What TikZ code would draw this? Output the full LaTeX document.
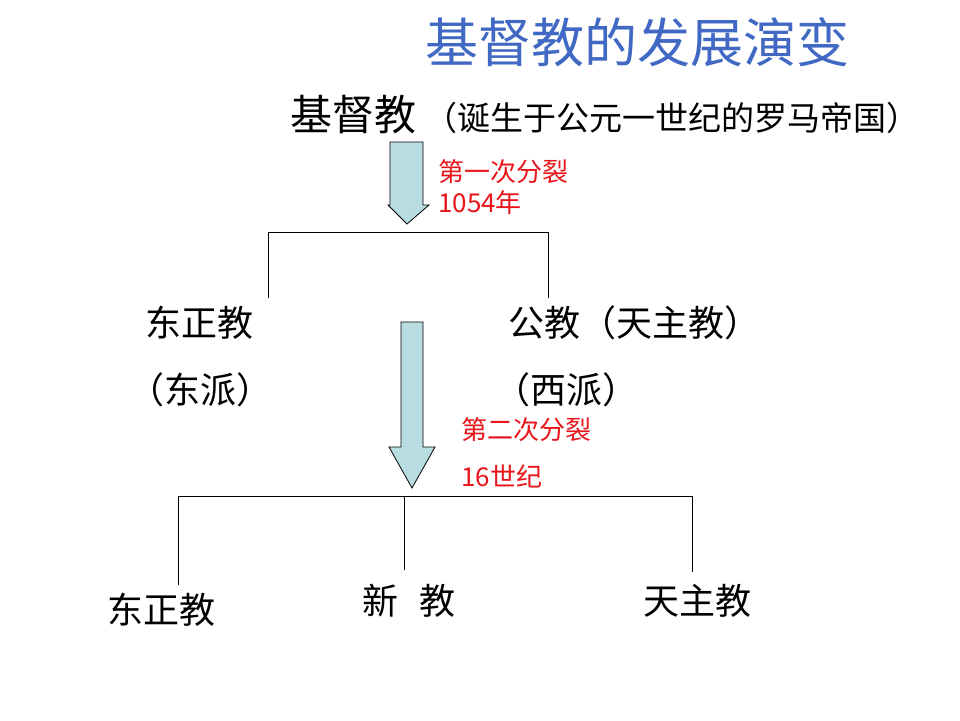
\documentclass[tikz,border=0pt]{standalone}
\usepackage{fontspec}
\setmainfont{Noto Sans CJK SC}
\newfontfamily\cjk{Noto Sans CJK SC}
\definecolor{titleblue}{HTML}{4169C4}
\definecolor{arrowfill}{HTML}{B8DDE0}
\definecolor{splitred}{HTML}{E8151B}
\begin{document}
\begin{tikzpicture}[x=1pt,y=-1pt,
  txt/.style={anchor=west,inner sep=0pt,font=\cjk\fontsize{36}{40}\selectfont},
  redtxt/.style={anchor=west,inner sep=0pt,text=splitred,font=\cjk\fontsize{26}{30}\selectfont},
  bigarrow/.style={draw=black,line width=0.8pt,fill=arrowfill,line join=miter},
  tree/.style={draw=black,line width=0.9pt}]
\useasboundingbox (0,0) rectangle (960,720);
\fill[white] (0,0) rectangle (960,720);
% title
\node[anchor=center,inner sep=0pt,text=titleblue,font=\cjk\fontsize{53}{58}\selectfont] (title) at (637,42) {基督教的发展演变};
% root
\node[txt,font=\cjk\fontsize{42}{46}\selectfont] (root) at (290,115) {基督教};
\node[anchor=west,inner sep=0pt,font=\cjk\fontsize{33}{36}\selectfont] (rootnote) at (424,118) {（诞生于公元一世纪的罗马帝国）};
% arrow 1
\draw[bigarrow] (390,142) -- (423,142) -- (423,205) -- (429,205) -- (407,224) -- (388,205) -- (390,205) -- cycle;
\node[redtxt] (s1a) at (438,172) {第一次分裂};
\node[redtxt] (s1b) at (438,203) {1054年};
% tree 1
\coordinate (t1l) at (268,232);
\coordinate (t1r) at (548,232);
\coordinate (t1lb) at (268,298);
\coordinate (t1rb) at (548,298);
\draw[tree] (t1lb) -- (t1l) -- (t1r) -- (t1rb);
% level 2
\node[txt] (east) at (145,323) {东正教};
\node[txt] (eastp) at (128,390) {（东派）};
\node[txt] (west) at (508,323) {公教（天主教）};
\node[txt] (westp) at (494,390) {（西派）};
% arrow 2
\draw[bigarrow] (401,322) -- (423,322) -- (423,447) -- (435,447) -- (412,488) -- (389,447) -- (401,447) -- cycle;
\node[redtxt] (s2a) at (461,430) {第二次分裂};
\node[redtxt] (s2b) at (461,476) {16世纪};
% tree 2
\coordinate (t2l) at (178,496);
\coordinate (t2m) at (404,496);
\coordinate (t2r) at (692,496);
\coordinate (t2lb) at (178,585);
\coordinate (t2mb) at (404,570);
\coordinate (t2rb) at (692,572);
\draw[tree] (t2lb) -- (t2l) -- (t2r) -- (t2rb);
\draw[tree] (t2m) -- (t2mb);
% level 3
\node[txt] (orth) at (107,610) {东正教};
\node[txt] (prot) at (362,601) {新\hspace{0.6em}教};
\node[txt] (cath) at (643,601) {天主教};
\end{tikzpicture}
\end{document}
